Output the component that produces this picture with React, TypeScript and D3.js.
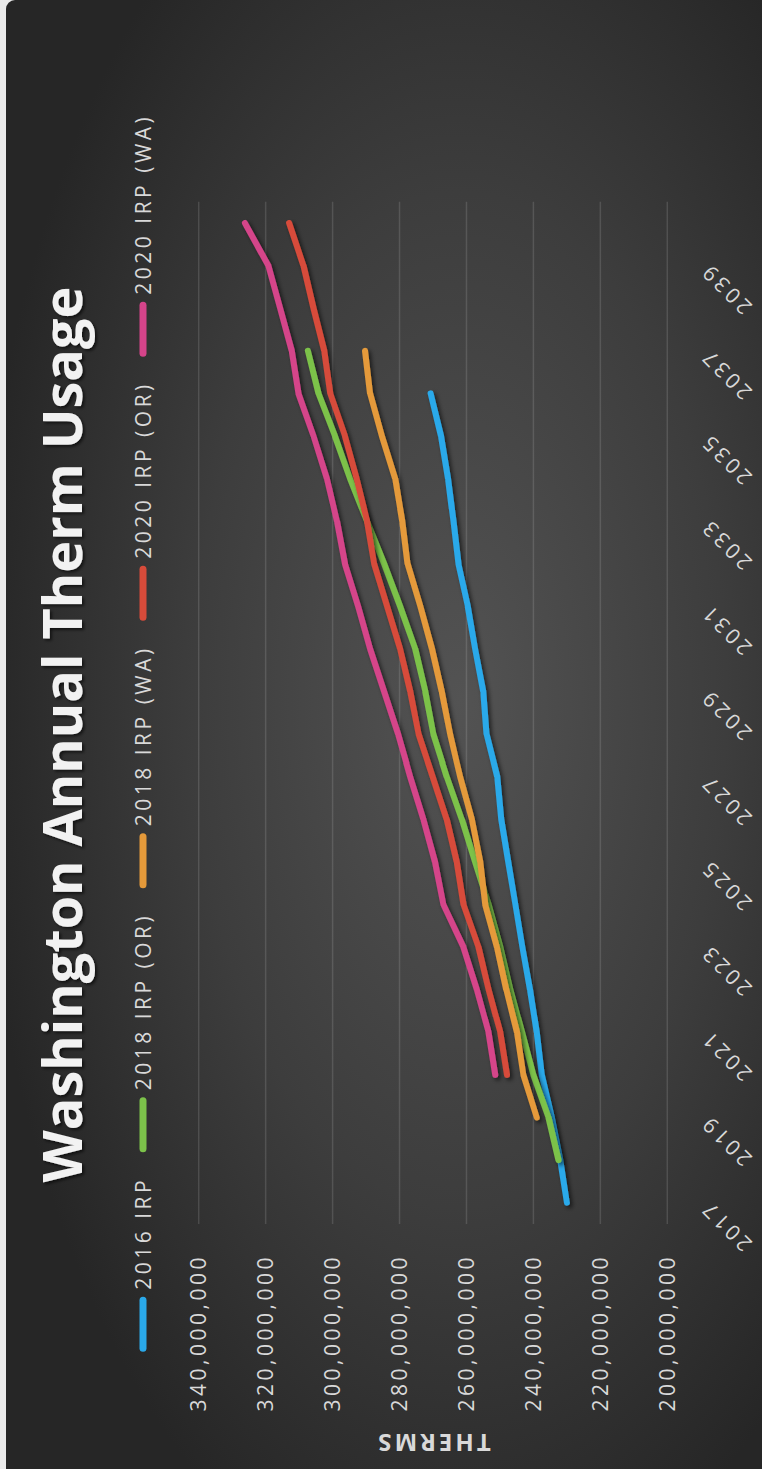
import React from "react";
import * as d3 from "d3";

// Chart is laid out landscape (W x H) and then turned a quarter turn onto the page.
const W = 1469;
const H = 762;

const years = [
  2017, 2018, 2019, 2020, 2021, 2022, 2023, 2024, 2025, 2026, 2027, 2028,
  2029, 2030, 2031, 2032, 2033, 2034, 2035, 2036, 2037, 2038, 2039, 2040,
];
const yearTicks = [2017, 2019, 2021, 2023, 2025, 2027, 2029, 2031, 2033, 2035, 2037, 2039];
const valueTicks = [200e6, 220e6, 240e6, 260e6, 280e6, 300e6, 320e6, 340e6];

// Annual therms (millions) by first forecast year
const irp2016 = [
  230.0, 232.0, 234.5, 237.5, 239.0, 241.0, 243.3, 245.4, 247.5, 249.6, 250.8,
  254.0, 255.0, 257.4, 259.6, 262.4, 263.9, 265.5, 267.6, 270.7,
];
const irp2018OR = [
  232.5, 235.5, 240.0, 243.4, 246.9, 249.9, 253.4, 257.4, 261.4, 265.9, 269.9,
  272.3, 275.3, 279.8, 284.6, 289.7, 294.8, 299.3, 304.2, 307.4,
];
const irp2018WA = [
  239.0, 243.0, 244.9, 248.1, 250.9, 254.4, 255.9, 258.4, 261.9, 264.9, 267.4,
  270.3, 273.8, 277.6, 279.2, 281.3, 285.3, 288.8, 290.3,
];
const irp2020OR = [
  247.9, 249.9, 253.4, 256.4, 260.9, 262.9, 265.9, 270.1, 274.3, 276.8, 279.8,
  283.7, 287.6, 289.7, 292.8, 296.3, 300.7, 302.5, 305.7, 308.7, 313.0,
];
const irp2020WA = [
  251.4, 253.4, 256.9, 260.9, 266.9, 269.4, 272.9, 276.8, 280.4, 284.6, 288.8,
  292.4, 296.3, 298.7, 301.7, 305.7, 310.2, 312.2, 315.7, 319.2, 326.2,
];

const seriesNames = ["2016 IRP", "2018 IRP (OR)", "2018 IRP (WA)", "2020 IRP (OR)", "2020 IRP (WA)"];
const seriesStart = [2017, 2018, 2019, 2020, 2020];
const seriesValues = [irp2016, irp2018OR, irp2018WA, irp2020OR, irp2020WA];
const seriesColors = ["#2aa9ea", "#7cc24a", "#e59a3a", "#d74b3a", "#d5448a"];

const FONT = "'Open Sans', 'Segoe UI', sans-serif";
const LABEL_SIZE = 21;
const LABEL_SPACING = 3.5;

function measure(text: string, size: number, weight: number, spacing: number) {
  const c = document.createElement("canvas").getContext("2d");
  if (!c) return text.length * size * 0.55;
  c.font = `${weight} ${size}px "Open Sans"`;
  return c.measureText(text).width + spacing * (text.length - 1);
}

export default function App() {
  const plotLeft = 245;
  const plotRight = 1267.3;
  const plotTop = 198.7;
  const plotBottom = 667.3;

  const x = d3.scaleBand<number>().domain(years).range([plotLeft, plotRight]).padding(0);
  const y = d3.scaleLinear().domain([200e6, 340e6]).range([plotBottom, plotTop]);
  const cx = (yr: number) => (x(yr) as number) + x.bandwidth() / 2;

  const line = d3
    .line<[number, number]>()
    .x((d) => cx(d[0]))
    .y((d) => y(d[1] * 1e6));

  const series = seriesNames.map((name, i) => ({
    name,
    color: seriesColors[i],
    points: seriesValues[i].map((v, j) => [seriesStart[i] + j, v] as [number, number]),
  }));

  // legend: pill + text per item, centred across the chart
  const pillLen = 55;
  const pillGap = 7;
  const itemGap = 28;
  const widths = seriesNames.map((n) => measure(n, LABEL_SIZE, 400, LABEL_SPACING));
  const total =
    widths.reduce((a, w) => a + pillLen + pillGap + w, 0) + itemGap * (seriesNames.length - 1);
  let cursor = W / 2 - total / 2;
  const legendItems = seriesNames.map((n, i) => {
    const start = cursor;
    cursor += pillLen + pillGap + widths[i] + itemGap;
    return { name: n, color: seriesColors[i], x: start };
  });
  const legendY = 143;

  const fmt = d3.format(",");

  return (
    <svg
      width={762}
      height={1469}
      style={{ position: "absolute", left: 0, top: 0, display: "block" }}
      fontFamily={FONT}
    >
      <rect x={0} y={0} width={762} height={1469} fill="#ebebeb" />
      <g transform={`translate(0,${W}) rotate(-90)`}>
        <defs>
          <radialGradient id="bgGrad" cx="0.53" cy="0.58" r="0.62">
            <stop offset="0" stopColor="#535353" />
            <stop offset="0.55" stopColor="#3d3d3d" />
            <stop offset="1" stopColor="#262626" />
          </radialGradient>
          <filter id="lineShadow" x="-10%" y="-10%" width="120%" height="120%">
            <feDropShadow dx={-2.5} dy={2.5} stdDeviation={2} floodColor="#000" floodOpacity={0.6} />
          </filter>
          <filter id="textShadow" x="-5%" y="-20%" width="110%" height="140%">
            <feDropShadow dx={-2} dy={2} stdDeviation={1.5} floodColor="#000" floodOpacity={0.6} />
          </filter>
        </defs>
        <rect x={-20} y={6} width={W + 20} height={H + 20} rx={9} fill="url(#bgGrad)" />

        {/* title */}
        <text
          x={W / 2}
          y={82}
          textAnchor="middle"
          fontSize={54}
          fontWeight={700}
          fill="#f2f2f2"
          filter="url(#textShadow)"
        >
          Washington Annual Therm Usage
        </text>

        {/* legend */}
        {legendItems.map((it) => (
          <g key={it.name}>
            <line
              x1={it.x + 3.5}
              x2={it.x + pillLen - 3.5}
              y1={legendY}
              y2={legendY}
              stroke={it.color}
              strokeWidth={7}
              strokeLinecap="round"
            />
            <text
              x={it.x + pillLen + pillGap}
              y={legendY}
              dy="0.36em"
              fontSize={LABEL_SIZE}
              letterSpacing={LABEL_SPACING}
              fill="#d9d9d9"
            >
              {it.name}
            </text>
          </g>
        ))}

        {/* gridlines */}
        {valueTicks.map((v) => (
          <line
            key={v}
            x1={plotLeft}
            x2={plotRight}
            y1={y(v)}
            y2={y(v)}
            stroke="#ffffff"
            strokeOpacity={0.13}
            strokeWidth={1.5}
          />
        ))}

        {/* value axis labels */}
        {valueTicks.map((v) => (
          <text
            key={v}
            x={215}
            y={y(v)}
            dy="0.36em"
            textAnchor="end"
            fontSize={LABEL_SIZE}
            letterSpacing={LABEL_SPACING}
            fill="#d9d9d9"
          >
            {fmt(v)}
          </text>
        ))}

        {/* value axis title */}
        <text
          transform={`translate(35,${(plotTop + plotBottom) / 2}) rotate(-90)`}
          textAnchor="middle"
          fontSize={24}
          fontWeight={700}
          letterSpacing={3}
          fill="#d9d9d9"
        >
          THERMS
        </text>

        {/* year labels */}
        {yearTicks.map((yr) => (
          <text
            key={yr}
            transform={`translate(${cx(yr) + 4},${plotBottom + 42}) rotate(-45)`}
            textAnchor="end"
            fontSize={LABEL_SIZE}
            letterSpacing={LABEL_SPACING}
            fill="#d9d9d9"
          >
            {yr}
          </text>
        ))}

        {/* series lines */}
        {series.map((s) => (
          <path
            key={s.name}
            d={line(s.points) || ""}
            fill="none"
            stroke={s.color}
            strokeWidth={6}
            strokeLinecap="round"
            strokeLinejoin="round"
            filter="url(#lineShadow)"
          />
        ))}
      </g>
    </svg>
  );
}
